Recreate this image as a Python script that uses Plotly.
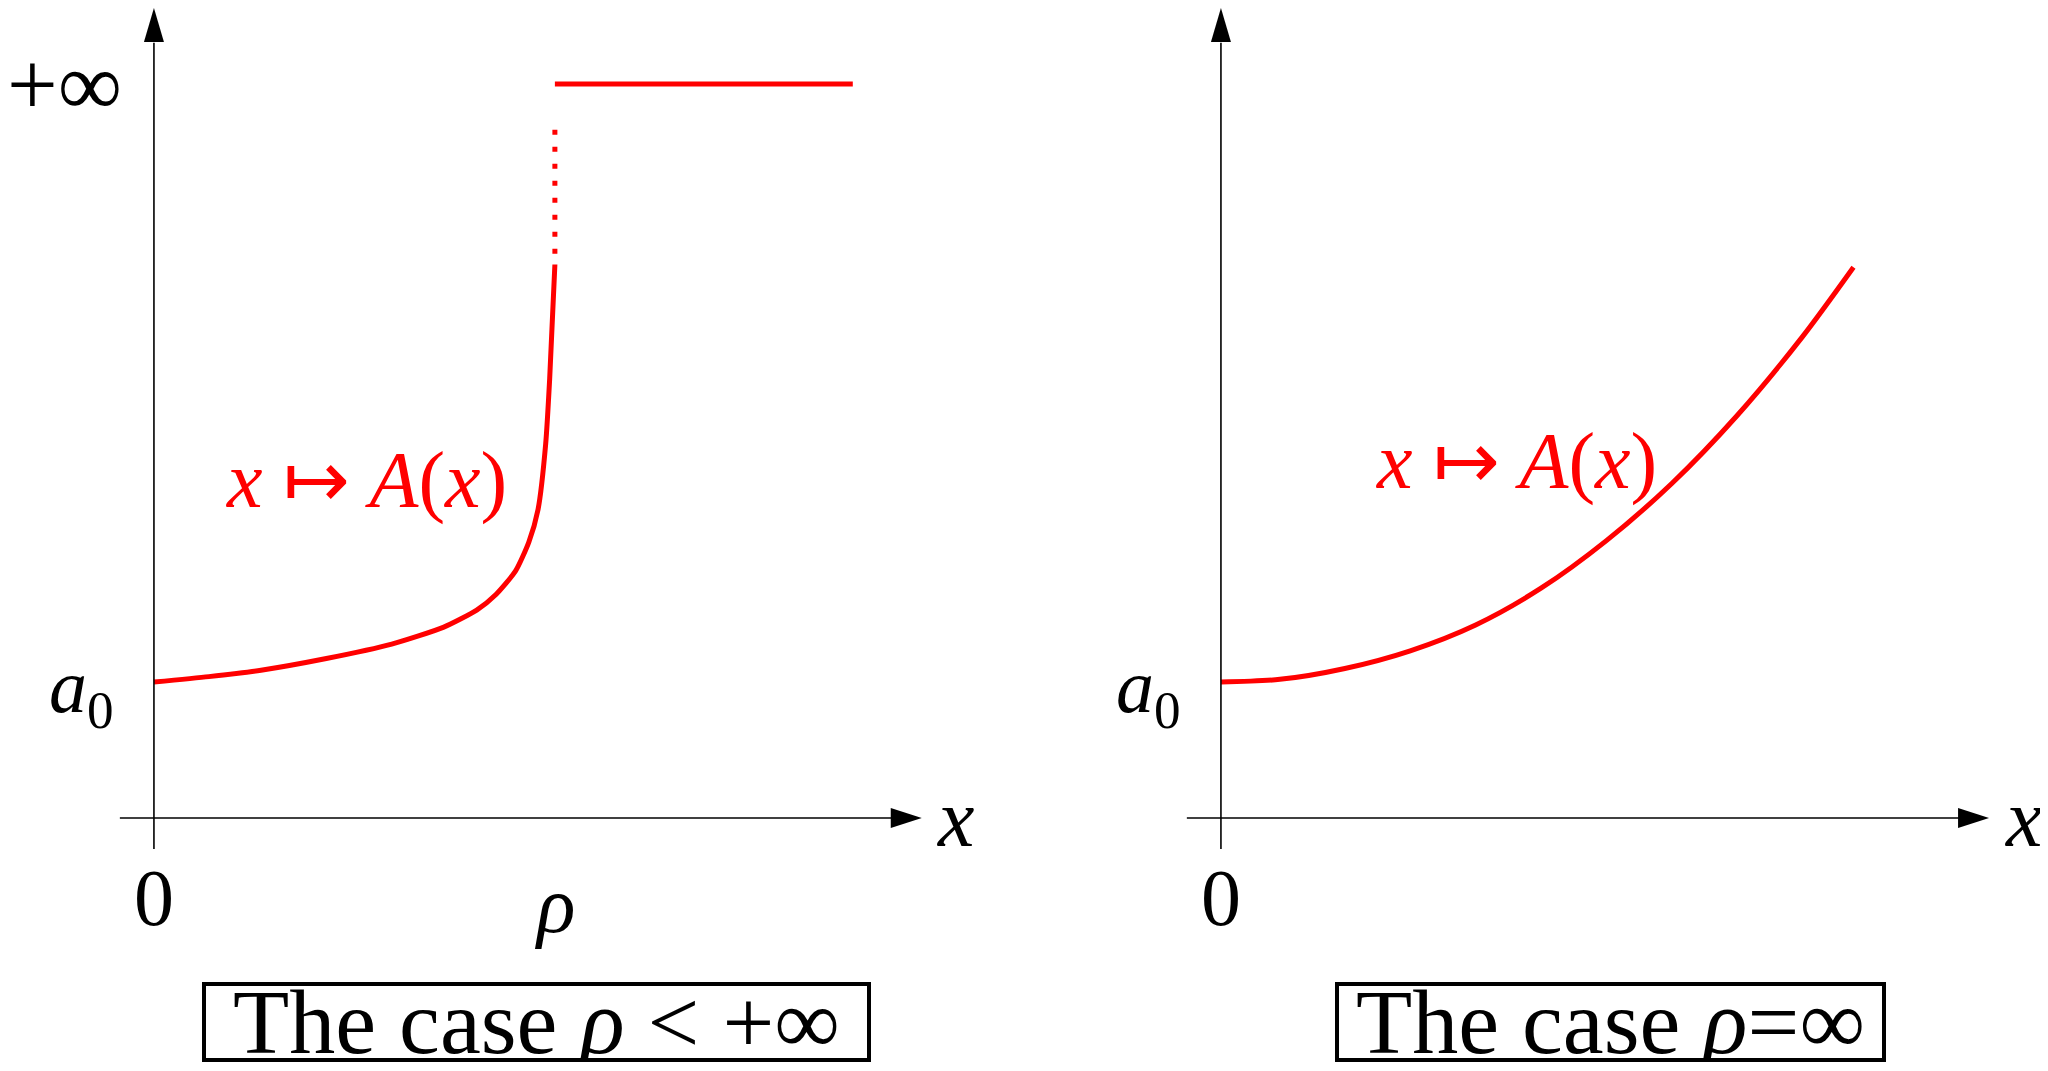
import plotly.graph_objects as go

# left panel: rho < +inf  (x in units of rho, y in units of a0)
left_x = [0, 0.137, 0.267, 0.430, 0.593, 0.723, 0.805, 0.853, 0.902, 0.935, 0.958, 0.977, 0.987, 1.0]
left_y = [1.0, 1.04, 1.087, 1.173, 1.279, 1.404, 1.529, 1.644, 1.817, 2.029, 2.269, 2.75, 3.231, 4.07]
dots_x = [1.0, 1.0]
dots_y = [4.15, 5.06]
inf_level = 5.397
top_x = [1.0, 1.743]
top_y = [inf_level, inf_level]

# right panel: rho = inf
right_x = [0, 0.147, 0.309, 0.472, 0.635, 0.798, 0.961, 1.124, 1.287, 1.450, 1.577]
right_y = [1.0, 1.02, 1.10, 1.23, 1.42, 1.69, 2.04, 2.46, 2.96, 3.54, 4.05]

RED = "#ff0000"
FONT = "Liberation Serif"
LW = 5

fig = go.Figure()
fig.add_trace(go.Scatter(x=left_x, y=left_y, mode="lines", line=dict(color=RED, width=LW, shape="spline", smoothing=0.6), xaxis="x", yaxis="y"))
fig.add_trace(go.Scatter(x=dots_x, y=dots_y, mode="lines", line=dict(color=RED, width=LW, dash="5px,12px"), xaxis="x", yaxis="y"))
fig.add_trace(go.Scatter(x=top_x, y=top_y, mode="lines", line=dict(color=RED, width=LW), xaxis="x", yaxis="y"))
fig.add_trace(go.Scatter(x=right_x, y=right_y, mode="lines", line=dict(color=RED, width=LW, shape="spline", smoothing=0.8), xaxis="x2", yaxis="y"))

shapes = []
for xr in ["x", "x2"]:
    # axes with arrows
    shapes.append(dict(type="line", xref=xr, yref="y", x0=-0.085, x1=1.84, y0=0, y1=0, line=dict(color="black", width=1.6)))
    shapes.append(dict(type="line", xref=xr, yref="y", x0=0, x1=0, y0=-0.228, y1=5.70, line=dict(color="black", width=1.6)))
    shapes.append(dict(type="path", xref=xr, yref="y", xsizemode="pixel", ysizemode="pixel", xanchor=1.915, yanchor=0,
                       path="M0,0 L-31,10 L-31,-10 Z", fillcolor="black", line=dict(width=0)))
    shapes.append(dict(type="path", xref=xr, yref="y", xsizemode="pixel", ysizemode="pixel", xanchor=0, yanchor=5.956,
                       path="M0,0 L-10,-34 L10,-34 Z", fillcolor="black", line=dict(width=0)))

ann = []
def txt(xr, x, y, t, size=72, color="black", xanchor="center", yanchor="middle"):
    ann.append(dict(xref=xr, yref="y", x=x, y=y, text=t, showarrow=False, xanchor=xanchor, yanchor=yanchor,
                    font=dict(family=FONT, size=size, color=color)))

for xr in ["x", "x2"]:
    txt(xr, 0, -0.59, "0", 80)
    txt(xr, 2.0, 0, "<i>x</i>", 82)
    txt(xr, -0.095, 0.93, "<i>a</i><sub>0</sub>", 76, xanchor="right")
txt("x", -0.075, inf_level, "+∞", 90, xanchor="right")
txt("x", 1.0, -0.64, "<i>ρ</i>", 80)
txt("x", 0.531, 2.48, "<i>x</i> ↦ <i>A</i>(<i>x</i>)", 80, color=RED)
txt("x2", 0.736, 2.62, "<i>x</i> ↦ <i>A</i>(<i>x</i>)", 80, color=RED)

ann.append(dict(xref="x", yref="y", x=0.955, y=-1.50, text="The case <i>ρ</i> &lt; +∞", showarrow=False,
                font=dict(family=FONT, size=92, color="black"), bordercolor="black", borderwidth=4, borderpad=0,
                width=661, height=72))
ann.append(dict(xref="x2", yref="y", x=0.970, y=-1.50, text="The case <i>ρ</i>=∞", showarrow=False,
                font=dict(family=FONT, size=92, color="black"), bordercolor="black", borderwidth=4, borderpad=0,
                width=543, height=72))

hidden = dict(visible=False, showgrid=False, zeroline=False, fixedrange=True)
# page body has an 8px margin, so the figure is sized/ranged to sit at the same spot
fig.update_layout(
    width=2032, height=1055,
    margin=dict(l=0, r=0, t=0, b=0),
    paper_bgcolor="white", plot_bgcolor="white",
    showlegend=False,
    xaxis=dict(domain=[0, 0.5], range=[-0.364, 2.170], anchor="y", **hidden),
    xaxis2=dict(domain=[0.5, 1], range=[-0.491, 2.042], anchor="y", **hidden),
    yaxis=dict(domain=[0, 1], range=[-1.801, 5.956], **hidden),
    shapes=shapes, annotations=ann,
)

fig.write_html("out.html")
